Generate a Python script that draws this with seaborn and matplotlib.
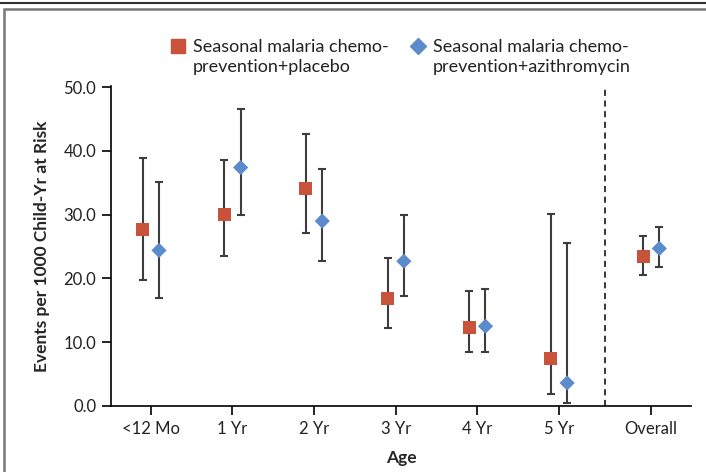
import pandas as pd
import matplotlib
matplotlib.use("Agg")
import matplotlib.pyplot as plt
import seaborn as sns
from matplotlib.patches import Rectangle
from matplotlib.lines import Line2D

# Data
ages = ['<12 Mo', '1 Yr', '2 Yr', '3 Yr', '4 Yr', '5 Yr', 'Overall']
placebo = [27.7, 30.0, 34.1, 16.9, 12.3, 7.5, 23.5]
placebo_lo = [19.7, 23.5, 27.2, 12.3, 8.4, 1.9, 20.6]
placebo_hi = [38.9, 38.5, 42.7, 23.2, 18.0, 30.1, 26.6]
azithro = [24.4, 37.4, 29.0, 22.7, 12.5, 3.6, 24.7]
azithro_lo = [16.9, 30.0, 22.7, 17.2, 8.5, 0.5, 21.8]
azithro_hi = [35.1, 46.6, 37.1, 30.0, 18.4, 25.6, 28.0]

label_placebo = 'Seasonal malaria chemo-\nprevention+placebo'
label_azithro = 'Seasonal malaria chemo-\nprevention+azithromycin'

RED = '#C8523A'
BLUE = '#5B8BCB'

# category positions (Overall sits a bit further right, past the divider)
xpos = [0, 1, 2, 3, 4, 5, 6.13]
offset = 0.1

rows = []
for i, a in enumerate(ages):
    rows.append({'age': a, 'x': xpos[i] - offset, 'rate': placebo[i],
                 'lo': placebo_lo[i], 'hi': placebo_hi[i], 'group': label_placebo})
    rows.append({'age': a, 'x': xpos[i] + offset, 'rate': azithro[i],
                 'lo': azithro_lo[i], 'hi': azithro_hi[i], 'group': label_azithro})
df = pd.DataFrame(rows)

sns.set_style('ticks')
plt.rcParams['font.family'] = ['Lato', 'DejaVu Sans']

fig = plt.figure(figsize=(7.06, 4.72), dpi=100)
ax = fig.add_axes([0.157, 0.14, 0.822, 0.678])

# error bars
ax.errorbar(df['x'], df['rate'], yerr=[df['rate'] - df['lo'], df['hi'] - df['rate']],
            fmt='none', ecolor='#3d3d3d', elinewidth=1.5, capsize=3, capthick=1.5, zorder=2)

sns.scatterplot(data=df, x='x', y='rate', hue='group', style='group', size='group',
                palette={label_placebo: RED, label_azithro: BLUE},
                markers={label_placebo: 's', label_azithro: 'D'},
                sizes={label_placebo: 88, label_azithro: 60},
                edgecolor='none', ax=ax, zorder=3, legend=False)

ax.axvline(5.57, color='black', linestyle=(0, (4, 3)), linewidth=1.1)

ax.set_xlim(-0.49, 6.62)
ax.set_ylim(0, 50.2)
ax.set_xticks(xpos)
ax.set_xticklabels(ages)
ax.set_yticks([0, 10, 20, 30, 40, 50])
ax.set_yticklabels([f'{v:.1f}' for v in [0, 10, 20, 30, 40, 50]])
ax.tick_params(axis='both', labelsize=12, length=6.5, width=1.2, color='black',
               labelcolor='#222222', pad=4)
for s in ['left', 'bottom']:
    ax.spines[s].set_linewidth(1.2)
    ax.spines[s].set_color('black')
sns.despine(ax=ax)

ax.set_xlabel('Age', fontsize=12.5, fontweight='bold', labelpad=10)
ax.set_ylabel('Events per 1000 Child-Yr at Risk', fontsize=12.5, fontweight='bold', labelpad=10)

# legend drawn above the plot, marker beside the first text line
legend_items = [(178, 's', RED, 10.5, label_placebo),
                (418, 'D', BLUE, 8.0, label_azithro)]
W, H = 706.0, 472.0
for px, mk, col, ms, lab in legend_items:
    fig.add_artist(Line2D([px / W], [1 - 46 / H], marker=mk, color=col, markersize=ms,
                          linestyle='none', transform=fig.transFigure))
    for j, line in enumerate(lab.split('\n')):
        fig.text((px + 15) / W, 1 - (52 + 20 * j) / H, line, fontsize=13,
                 va='baseline', ha='left', color='#222222')

# frame lines around the figure
fig.add_artist(Line2D([0, 1], [0.994, 0.994], color='#333333', linewidth=1.5,
                      transform=fig.transFigure))
fig.add_artist(Rectangle((0.005, -0.01), 1.2, 0.99, transform=fig.transFigure,
                         fill=False, edgecolor='#777777', linewidth=1.8))

fig.savefig('out.png', dpi=100)
